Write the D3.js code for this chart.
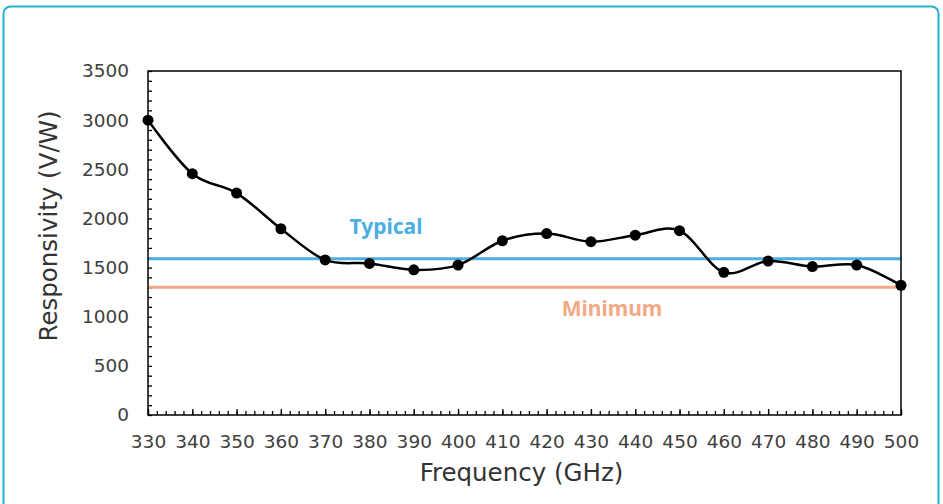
<!DOCTYPE html>
<html>
<head>
<meta charset="utf-8">
<script src="https://cdn.jsdelivr.net/npm/d3@7/dist/d3.min.js"></script>
<style>
  html, body { margin: 0; padding: 0; background: #fff; }
  svg { display: block; }
</style>
</head>
<body>
<svg id="chart" width="943" height="504"></svg>
<script>
// ---- data ----
const frequencies = [330, 340, 350, 360, 370, 380, 390, 400, 410, 420, 430, 440, 450, 460, 470, 480, 490, 500];
const responsivity = [3000, 2455, 2258, 1895, 1578, 1542, 1477, 1525, 1773, 1846, 1763, 1830, 1875, 1452, 1567, 1510, 1526, 1320];
const typicalValue = 1590;
const minimumValue = 1300;
const xTicks = [330, 340, 350, 360, 370, 380, 390, 400, 410, 420, 430, 440, 450, 460, 470, 480, 490, 500];
const yTicks = [0, 500, 1000, 1500, 2000, 2500, 3000, 3500];
const xTitle = "Frequency (GHz)";
const yTitle = "Responsivity (V/W)";

// ---- layout ----
const svg = d3.select("#chart");
const L = 148, R = 901, T = 71, B = 415;
const font = "'DejaVu Sans', sans-serif";

// outer rounded frame
svg.append("rect")
  .attr("x", 3.5).attr("y", 6.5).attr("width", 935).attr("height", 520)
  .attr("rx", 7).attr("ry", 7)
  .attr("fill", "none").attr("stroke", "#22b3d3").attr("stroke-width", 2);

const x = d3.scaleLinear().domain([330, 500]).range([L, R]);
const y = d3.scaleLinear().domain([0, 3500]).range([B, T]);

// minor ticks x (every 2 GHz), inward
const xMinor = d3.range(330, 501, 2);
svg.append("g").attr("transform", `translate(0,${B})`)
  .call(d3.axisTop(x).tickValues(xMinor).tickSize(4).tickFormat(""))
  .call(g => g.select(".domain").remove())
  .call(g => g.selectAll("line").attr("stroke", "#000").attr("stroke-width", 1.3));
// major ticks x
svg.append("g").attr("transform", `translate(0,${B})`)
  .call(d3.axisTop(x).tickValues(xTicks).tickSize(6).tickFormat(""))
  .call(g => g.select(".domain").remove())
  .call(g => g.selectAll("line").attr("stroke", "#000").attr("stroke-width", 1.3));
// x labels
svg.append("g").attr("transform", `translate(0,${B})`)
  .call(d3.axisBottom(x).tickValues(xTicks).tickSize(0).tickPadding(20).tickFormat(d3.format("d")))
  .call(g => g.select(".domain").remove())
  .call(g => g.selectAll("text").attr("font-family", font).attr("font-size", 18.5).attr("fill", "#404040"));

// y minor ticks (every 100), inward
const yMinor = d3.range(0, 3501, 100);
svg.append("g").attr("transform", `translate(${L},0)`)
  .call(d3.axisRight(y).tickValues(yMinor).tickSize(4).tickFormat(""))
  .call(g => g.select(".domain").remove())
  .call(g => g.selectAll("line").attr("stroke", "#000").attr("stroke-width", 1.3));
// y labels
svg.append("g").attr("transform", `translate(${L},0)`)
  .call(d3.axisLeft(y).tickValues(yTicks).tickSize(0).tickPadding(19).tickFormat(d3.format("d")))
  .call(g => g.select(".domain").remove())
  .call(g => g.selectAll("text").attr("font-family", font).attr("font-size", 18.5).attr("fill", "#404040"));

// reference lines
svg.append("line")
  .attr("x1", x(330)).attr("x2", x(500)).attr("y1", y(typicalValue)).attr("y2", y(typicalValue))
  .attr("stroke", "#4aafe2").attr("stroke-width", 3);
svg.append("line")
  .attr("x1", x(330)).attr("x2", x(500)).attr("y1", y(minimumValue)).attr("y2", y(minimumValue))
  .attr("stroke", "#f3a985").attr("stroke-width", 3);

svg.append("text").attr("x", 386).attr("y", 234).attr("text-anchor", "middle")
  .attr("font-family", "'Noto Sans', sans-serif").attr("font-weight", "bold").attr("font-size", 21)
  .attr("fill", "#4aafe2").text("Typical");
svg.append("text").attr("x", 612).attr("y", 316).attr("text-anchor", "middle")
  .attr("font-family", "'Noto Sans', sans-serif").attr("font-weight", "bold").attr("font-size", 21)
  .attr("fill", "#f3a985").text("Minimum");

// plot frame
svg.append("rect").attr("x", L).attr("y", T).attr("width", R - L).attr("height", B - T)
  .attr("fill", "none").attr("stroke", "#000").attr("stroke-width", 1.5);

// data line (smoothed)
const pts = frequencies.map((f, i) => [f, responsivity[i]]);
const line = d3.line().x(d => x(d[0])).y(d => y(d[1])).curve(d3.curveCardinal.tension(0));
svg.append("path").datum(pts).attr("d", line)
  .attr("fill", "none").attr("stroke", "#000").attr("stroke-width", 2.5);
svg.append("g").selectAll("circle").data(pts).join("circle")
  .attr("cx", d => x(d[0])).attr("cy", d => y(d[1])).attr("r", 5.5).attr("fill", "#000");

// axis titles
svg.append("text").attr("x", (L + R) / 2 - 3).attr("y", 481).attr("text-anchor", "middle")
  .attr("font-family", font).attr("font-size", 24.5).attr("fill", "#333").text(xTitle);
svg.append("text").attr("transform", "translate(57,226) rotate(-90)").attr("text-anchor", "middle")
  .attr("font-family", font).attr("font-size", 24.5).attr("fill", "#333").text(yTitle);
</script>
</body>
</html>
